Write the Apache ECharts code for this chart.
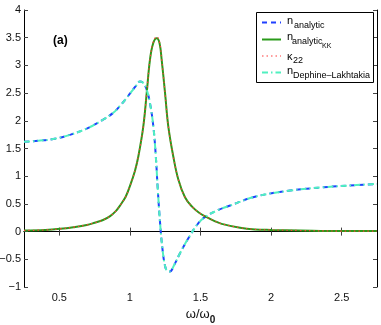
<!DOCTYPE html>
<html>
<head>
<meta charset="utf-8">
<script src="https://cdn.jsdelivr.net/npm/echarts@6/dist/echarts.min.js"></script>
<style>
	html, body { margin: 0; padding: 0; background: #fff; }
	#chart { width: 381px; height: 325px; }
</style>
</head>
<body>
<div id="chart"></div>
<script>
	// n (analytic) 和 n (Dephine-Lakhtakia) 曲线
	var nX = [0.25, 0.35, 0.457, 0.58, 0.694, 0.81, 0.88, 0.93, 0.97, 1.0, 1.04, 1.072, 1.095, 1.119, 1.142, 1.166, 1.183, 1.197, 1.213, 1.23, 1.249, 1.265, 1.284, 1.31, 1.355, 1.414, 1.484, 1.537, 1.626, 1.72, 1.886, 2.134, 2.37, 2.606, 2.75];
	var nAnalytic = [1.62, 1.64, 1.67, 1.75, 1.86, 2.02, 2.14, 2.27, 2.39, 2.49, 2.62, 2.71, 2.68, 2.56, 2.32, 1.90, 1.38, 0.78, 0.18, -0.30, -0.62, -0.71, -0.72, -0.62, -0.39, -0.12, 0.15, 0.27, 0.39, 0.48, 0.63, 0.74, 0.80, 0.84, 0.86];
	var nDL = [1.62, 1.64, 1.67, 1.75, 1.86, 2.02, 2.14, 2.27, 2.39, 2.49, 2.62, 2.71, 2.68, 2.56, 2.32, 1.90, 1.38, 0.78, 0.18, -0.30, -0.62, -0.71, -0.72, -0.62, -0.39, -0.12, 0.15, 0.27, 0.39, 0.48, 0.63, 0.74, 0.80, 0.84, 0.86];
	// KK 曲线 和 kappa22
	var kX = [0.25, 0.4, 0.505, 0.6, 0.694, 0.75, 0.81, 0.86, 0.9, 0.93, 0.97, 1.0, 1.036, 1.06, 1.095, 1.119, 1.142, 1.165, 1.19, 1.21, 1.225, 1.249, 1.272, 1.307, 1.343, 1.39, 1.44, 1.49, 1.537, 1.6, 1.65, 1.78, 1.886, 2.0, 2.2, 2.5, 2.75];
	var nKK = [0.02, 0.03, 0.05, 0.08, 0.12, 0.16, 0.21, 0.28, 0.37, 0.47, 0.63, 0.82, 1.10, 1.36, 1.90, 2.50, 3.10, 3.40, 3.49, 3.40, 3.10, 2.50, 1.90, 1.36, 0.94, 0.62, 0.45, 0.34, 0.27, 0.19, 0.14, 0.07, 0.04, 0.03, 0.02, 0.01, 0.01];
	var kappa22 = [0.02, 0.03, 0.05, 0.08, 0.12, 0.16, 0.21, 0.28, 0.37, 0.47, 0.63, 0.82, 1.10, 1.36, 1.90, 2.50, 3.10, 3.42, 3.52, 3.42, 3.10, 2.50, 1.90, 1.36, 0.94, 0.62, 0.45, 0.34, 0.27, 0.19, 0.14, 0.07, 0.04, 0.03, 0.02, 0.01, 0.01];
	var xTicks = [0.5, 1, 1.5, 2, 2.5];

	function pairs(xs, ys) {
		return xs.map(function (x, i) { return [x, ys[i]]; });
	}
	function fmt(v) {
		return v < 0 ? '\u2212' + Math.abs(v) : String(v);
	}

	var font = 'Liberation Sans, Arial, Helvetica, sans-serif';
	var C_BLUE = '#2040ff', C_GREEN = '#2a9a1a', C_RED = '#ff3a3a', C_CYAN = '#50f0c0';

	var myChart = echarts.init(document.getElementById('chart'));
	myChart.setOption({
		animation: false,
		grid: { left: 24, right: 4, top: 10, bottom: 38, containLabel: false, outerBoundsMode: 'none' },
		xAxis: [{
			type: 'value', min: 0.25, max: 2.75, position: 'bottom',
			axisLine: { show: true, lineStyle: { color: '#000', width: 1 } },
			axisTick: { inside: true, length: 4, customValues: xTicks, lineStyle: { color: '#444' } },
			axisLabel: { customValues: xTicks, margin: 5, color: '#111', fontSize: 11, fontFamily: font, formatter: fmt },
			splitLine: { show: false },
			name: '{a|\u03c9/\u03c9}{s|0}', nameLocation: 'middle', nameGap: 20,
			nameTextStyle: {
				rich: {
					a: { fontSize: 13, fontFamily: font, color: '#111', lineHeight: 16, verticalAlign: 'top' },
					s: { fontSize: 10, fontFamily: font, fontWeight: 'bold', color: '#111', padding: [7, 0, 0, 0], verticalAlign: 'top' }
				}
			}
		}, {
			type: 'value', min: 0.25, max: 2.75, position: 'top',
			axisLine: { show: true, lineStyle: { color: '#000', width: 1 } },
			axisTick: { inside: true, length: 4, customValues: xTicks, lineStyle: { color: '#444' } },
			axisLabel: { show: false },
			splitLine: { show: false }
		}],
		yAxis: [{
			type: 'value', min: -1, max: 4, interval: 0.5, position: 'left',
			axisLine: { show: true, lineStyle: { color: '#000', width: 1 } },
			axisTick: { inside: true, length: 4, lineStyle: { color: '#444' } },
			axisLabel: { margin: 3, color: '#111', fontSize: 11, fontFamily: font, formatter: fmt },
			splitLine: { show: false }
		}, {
			type: 'value', min: -1, max: 4, interval: 0.5, position: 'right',
			axisLine: { show: true, lineStyle: { color: '#000', width: 1 } },
			axisTick: { inside: true, length: 4, lineStyle: { color: '#444' } },
			axisLabel: { show: false },
			splitLine: { show: false }
		}],
		series: [{
			name: 'n_analytic', type: 'line', data: pairs(nX, nAnalytic), smooth: 0.4,
			showSymbol: false, lineStyle: { color: C_BLUE, width: 2, type: [5, 4] }
		}, {
			name: 'n_analytic_KK', type: 'line', data: pairs(kX, nKK), smooth: 0.4,
			showSymbol: false, lineStyle: { color: C_GREEN, width: 2 }
		}, {
			name: 'kappa_22', type: 'line', data: pairs(kX, kappa22), smooth: 0.4,
			showSymbol: false, lineStyle: { color: C_RED, width: 1.2, type: [1.5, 3] }
		}, {
			name: 'n_Dephine-Lakhtakia', type: 'line', data: pairs(nX, nDL), smooth: 0.4,
			showSymbol: false, lineStyle: { color: C_CYAN, width: 2, type: [6, 3, 1.5, 3] }
		}],
		graphic: [
			// (a) 标记
			{ type: 'text', left: 53, top: 35, style: { text: '(a)', font: 'bold 12px ' + font, fill: '#000' } },
			// 图例框
			{ type: 'rect', shape: { x: 256.5, y: 12.5, width: 117, height: 70 }, style: { fill: '#fff', stroke: '#000', lineWidth: 1 }, z: 10 },
			{ type: 'line', shape: { x1: 262, y1: 22.5, x2: 281, y2: 22.5 }, style: { stroke: C_BLUE, lineWidth: 2, lineDash: [5, 4] }, z: 11 },
			{ type: 'line', shape: { x1: 262, y1: 39.5, x2: 281, y2: 39.5 }, style: { stroke: C_GREEN, lineWidth: 2 }, z: 11 },
			{ type: 'line', shape: { x1: 262, y1: 56, x2: 281, y2: 56 }, style: { stroke: C_RED, lineWidth: 1.2, lineDash: [1.5, 3] }, z: 11 },
			{ type: 'line', shape: { x1: 262, y1: 72.5, x2: 281, y2: 72.5 }, style: { stroke: C_CYAN, lineWidth: 2, lineDash: [6, 3, 1.5, 3] }, z: 11 },
			{ type: 'text', z: 12, style: { x: 287, y: 20.5, text: 'n', font: '11px ' + font, fill: '#000', verticalAlign: 'middle' } },
			{ type: 'text', z: 12, style: { x: 294, y: 25.5, text: 'analytic', font: '9px ' + font, fill: '#000', verticalAlign: 'middle' } },
			{ type: 'text', z: 12, style: { x: 287, y: 36.5, text: 'n', font: '11px ' + font, fill: '#000', verticalAlign: 'middle' } },
			{ type: 'text', z: 12, style: { x: 292, y: 42, text: 'analytic', font: '9px ' + font, fill: '#000', verticalAlign: 'middle' } },
			{ type: 'text', z: 12, style: { x: 322, y: 46.5, text: 'KK', font: '7px ' + font, fill: '#000', verticalAlign: 'middle' } },
			{ type: 'text', z: 12, style: { x: 287, y: 56.5, text: '\u03ba', font: '11px ' + font, fill: '#000', verticalAlign: 'middle' } },
			{ type: 'text', z: 12, style: { x: 293, y: 60.5, text: '22', font: '9px ' + font, fill: '#000', verticalAlign: 'middle' } },
			{ type: 'text', z: 12, style: { x: 287, y: 70.5, text: 'n', font: '11px ' + font, fill: '#000', verticalAlign: 'middle' } },
			{ type: 'text', z: 12, style: { x: 293, y: 76, text: 'Dephine\u2013Lakhtakia', font: '9px ' + font, fill: '#000', verticalAlign: 'middle' } }
		]
	});
</script>
</body>
</html>
